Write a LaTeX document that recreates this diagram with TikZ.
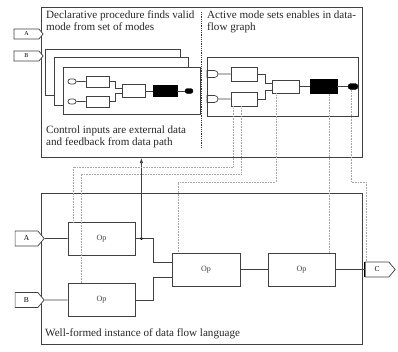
\documentclass[tikz,border=0pt]{standalone}
\usepackage{fontspec}
\setmainfont{Liberation Serif}
\usepackage{tikz}
\usetikzlibrary{arrows.meta}
\usetikzlibrary{shapes.misc}
\usetikzlibrary{shapes.symbols}

\tikzset{
  bigbox/.style={draw=black!75, line width=1pt, anchor=north west, inner sep=0pt},
  modebox/.style={draw=black!75, fill=white, line width=0.8pt, anchor=north west, inner sep=0pt},
  unit/.style={draw=black!75, line width=0.7pt, inner sep=0pt},
  blkunit/.style={draw=black, fill=black, inner sep=0pt},
  pill/.style={rounded rectangle, draw=black!75, line width=0.7pt, inner sep=0pt},
  halfpill/.style={rounded rectangle, rounded rectangle left arc=none, draw=black!75, line width=0.7pt, inner sep=0pt},
  blkpill/.style={rounded rectangle, draw=black, fill=black, inner sep=0pt},
  optag/.style={signal, signal to=east, signal pointer angle=100, draw=black!75, fill=white, line width=0.7pt, inner sep=0pt},
  opbox/.style={draw=black!75, line width=0.8pt, minimum width=67pt, minimum height=33pt, inner sep=0pt, font=\fontsize{8}{9}\selectfont, text=black!75},
  note/.style={anchor=north west, align=left, inner sep=0pt, font=\fontsize{11.1}{11.8}\selectfont, text=black!85},
  wire/.style={draw=black!75, line width=0.7pt},
  ctrl/.style={draw=gray!70, densely dotted, line width=0.6pt},
  sep/.style={draw=black!80, densely dotted, line width=0.8pt}
}

\begin{document}
\begin{tikzpicture}[x=1pt,y=-1pt]
    \useasboundingbox (0,0) rectangle (398,351);
    % mode selection
    \node[bigbox, minimum width=321pt, minimum height=150pt] (dec) at (41,7) {};
    \node[note] (decText) at (46,10.5) {Declarative procedure finds valid\\mode from set of modes};
    \node[note] (actText) at (207,10.5) {Active mode sets enables in data-\\flow graph};
    \node[note] (ctlText) at (46,125.5) {Control inputs are external data\\and feedback from data path};
    \draw[sep] (201,12) -- (201,148);
    \node[optag, minimum width=29pt, minimum height=10pt, font=\fontsize{6}{6}\selectfont] (selA) at (26.5,34) {A};
    \node[optag, minimum width=29pt, minimum height=10pt, font=\fontsize{6}{6}\selectfont] (selB) at (26.5,56) {B};

    % stack of modes
    \node[modebox, minimum width=135pt, minimum height=46pt] (modeA) at (45,49) {};
    \node[modebox, minimum width=134pt, minimum height=48pt] (modeB) at (54,57) {};
    \node[modebox, minimum width=137pt, minimum height=47pt] (modeC) at (63,67) {};
    \node[pill, minimum width=8pt, minimum height=5pt] (mIn1) at (72,81.5) {};
    \node[pill, minimum width=8pt, minimum height=5pt] (mIn2) at (72,101.5) {};
    \node[unit, minimum width=23pt, minimum height=11pt] (mU) at (97.5,81.5) {};
    \node[unit, minimum width=23pt, minimum height=11pt] (mL) at (97.5,101.5) {};
    \node[unit, minimum width=23pt, minimum height=13pt] (mMid) at (133.5,91) {};
    \node[blkunit, minimum width=24pt, minimum height=11pt] (mBlk) at (165,91) {};
    \node[blkpill, minimum width=8pt, minimum height=5pt] (mOut) at (189,91) {};
    \draw[wire] (mIn1) -- (mU);
    \draw[wire] (mIn2) -- (mL);
    \draw[wire] (mU.east) -- ++(6,0) |- ([yshift=2.5pt]mMid.west);
    \draw[wire] (mL.east) -- ++(6,0) |- ([yshift=-2.5pt]mMid.west);
    \draw[wire] (mMid) -- (mBlk);
    \draw[wire] (mBlk) -- (mOut);

    % active graph
    \node[modebox, minimum width=151pt, minimum height=59pt] (graph) at (207,57) {};
    \node[halfpill, minimum width=11pt, minimum height=7pt] (gIn1) at (212.5,74) {};
    \node[halfpill, minimum width=11pt, minimum height=7pt] (gIn2) at (212.5,99) {};
    \node[unit, minimum width=26pt, minimum height=14pt] (gU) at (244,74) {};
    \node[unit, minimum width=26pt, minimum height=14pt] (gL) at (244,99) {};
    \node[unit, minimum width=27pt, minimum height=13pt] (gMid) at (285.5,86.5) {};
    \node[blkunit, minimum width=27pt, minimum height=14pt] (gBlk) at (323.5,86.5) {};
    \node[blkpill, minimum width=10pt, minimum height=6pt] (gOut) at (353,86.5) {};
    \draw[wire] (gIn1) -- (gU);
    \draw[wire] (gIn2) -- (gL);
    \draw[wire] (gU.east) -- ++(8,0) |- ([yshift=3.5pt]gMid.west);
    \draw[wire] (gL.east) -- ++(8,0) |- ([yshift=-3.5pt]gMid.west);
    \draw[wire] (gMid) -- (gBlk);
    \draw[wire] (gBlk) -- (gOut);

    % data flow instance
    \node[bigbox, minimum width=321pt, minimum height=151pt] (inst) at (41,193) {};
    \node[note] (instText) at (45,328) {Well-formed instance of data flow language};
    \node[optag, minimum width=29pt, minimum height=15pt, font=\fontsize{7.5}{8}\selectfont] (inA) at (26.5,238.5) {A};
    \node[optag, minimum width=29pt, minimum height=15pt, font=\fontsize{7.5}{8}\selectfont] (inB) at (26.5,300) {B};
    \node[opbox] (opA) at (101.5,238.5) {Op};
    \node[opbox] (opB) at (101.5,300) {Op};
    \node[opbox, minimum width=68pt] (opM) at (206,269.5) {Op};
    \node[opbox] (opR) at (301.5,269.5) {Op};
    \node[optag, minimum width=30pt, minimum height=15pt, font=\fontsize{7.5}{8}\selectfont] (outC) at (377,269.5) {C};
    \draw[black, line width=1.2pt] (outC.north west) -- (outC.south west);
    \draw[wire] (inA) -- (opA);
    \draw[wire] (inB) -- (opB);
    \coordinate (tap) at ([xshift=6pt]opA.east);
    \draw[wire] (opA.east) -- ++(18,0) |- ([yshift=7.5pt]opM.west);
    \draw[wire] (opB.east) -- ++(18,0) |- ([yshift=-7.5pt]opM.west);
    \fill[black] (tap) circle (1.6pt);
    \draw[wire, -{Latex[length=5pt,width=3.5pt]}] (tap) -- (tap |- dec.south);
    \draw[wire] (opM) -- (opR);
    \draw[wire] (opR) -- (outC);

    % enables from the active graph
    \coordinate (k1) at (73,167);
    \coordinate (k2) at (81,174);
    \coordinate (k3) at (178,182);
    \coordinate (k4) at (366,182);
    \draw[ctrl] ([xshift=-11pt]gL.south) |- (k1) -- (k1 |- opA.north);
    \draw[ctrl] ([xshift=-3pt]gL.south) |- (k2) -- (k2 |- opB.north);
    \draw[ctrl] ([xshift=-9.5pt]gMid.south) |- (k3) -- (k3 |- opM.north);
    \draw[ctrl] ([xshift=5.5pt]gBlk.south) -- ([xshift=5.5pt]gBlk.south |- opR.north);
    \draw[ctrl] ([xshift=-2pt]gOut.south) |- (k4) -- (k4 |- outC.north);
\end{tikzpicture}
\end{document}
